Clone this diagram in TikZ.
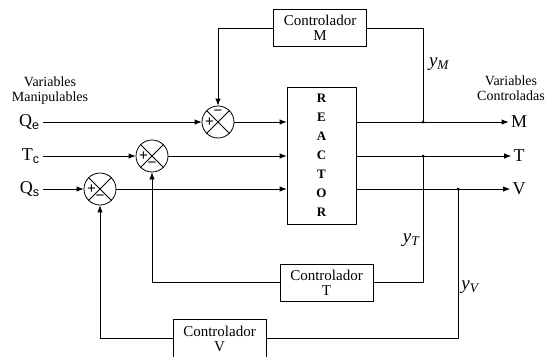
\documentclass[tikz,border=0pt]{standalone}
\usepackage{fontspec}
\setmainfont{Liberation Serif}
\setsansfont{Liberation Sans}
\usetikzlibrary{arrows.meta}
\begin{document}
\begin{tikzpicture}[x=1pt,y=-1pt,
  every path/.style={line width=0.8pt},
  box/.style={draw,minimum width=93pt,minimum height=37pt,inner sep=0pt,align=center,font=\fontsize{15}{15}\selectfont},
  sumj/.style={draw,circle,minimum size=32pt,inner sep=0pt},
  arr/.style={-{Latex[length=7pt,width=5.5pt]}},
  jdot/.style={circle,fill,inner sep=0pt,minimum size=3pt},
  inlbl/.style={font=\fontsize{18}{20}\selectfont,inner sep=3pt,anchor=east},
  outlbl/.style={font=\fontsize{18}{20}\selectfont,inner sep=2pt},
  ylbl/.style={font=\itshape\fontsize{19}{19}\selectfont,inner sep=0pt},
  sgn/.style={font=\sffamily\fontsize{15}{15}\selectfont,inner sep=0pt},
  grp/.style={font=\fontsize{14}{15}\selectfont,align=center,inner sep=0pt}
]
\useasboundingbox (0,0) rectangle (551,356);

% group labels
\node[grp] (vm) at (50,90.5) {Variables\\Manipulables};
\node[grp] (vc) at (511,88.5) {Variables\\Controladas};

% input labels
\node[inlbl] (qe) at (43,122) {Q\textsubscript{\sffamily e}};
\node[inlbl] (tc) at (43,156) {T\textsubscript{\sffamily c}};
\node[inlbl] (qs) at (43,189) {Q\textsubscript{\sffamily s}};

% summing junctions
\node[sumj] (sE) at (218,122) {};
\node[sumj] (sT) at (152,156) {};
\node[sumj] (sS) at (100,189) {};
\foreach \s in {sE,sT,sS}{
  \draw (\s.north east) -- (\s.south west) (\s.north west) -- (\s.south east);
  \node[sgn] at ([xshift=-8.5pt]\s.center) {+};
}
\node[sgn] at ([yshift=9pt]sE.center) {\char"2212};
\node[sgn] at ([yshift=-9pt]sT.center) {\char"2212};
\node[sgn] at ([yshift=-9pt]sS.center) {\char"2212};

% reactor
\node[draw,minimum width=69pt,minimum height=137pt,inner sep=0pt,align=center,
      font=\bfseries\fontsize{13}{19}\selectfont] (reactor) at (321.5,155.5)
      {R\\E\\A\\C\\T\\O\\R};

% controllers
\node[box] (cM) at (320,28) {Controlador\\M};
\node[box] (cT) at (326.5,282.5) {Controlador\\T};
\node[box,minimum height=39pt] (cV) at (219.5,338.5) {Controlador\\V};

% output labels
\node[outlbl] (oM) at (519,122) {M};
\node[outlbl] (oT) at (519,156) {T};
\node[outlbl] (oV) at (519,189) {V};

% junction dots
\node[jdot] (jM) at (423,122) {};
\node[jdot] (jT) at (423,156) {};
\node[jdot] (jV) at (458,189) {};

% inputs
\draw[arr] (qe.east) -- (sE.west);
\draw[arr] (tc.east) -- (sT.west);
\draw[arr] (qs.east) -- (sS.west);
\draw[arr] (sE.east) -- (reactor.west |- sE.east);
\draw[arr] (sT.east) -- (reactor.west |- sT.east);
\draw[arr] (sS.east) -- (reactor.west |- sS.east);

% outputs
\draw[arr] (reactor.east |- oM) -- (oM.west);
\draw[arr] (reactor.east |- oT) -- (oT.west);
\draw[arr] (reactor.east |- oV) -- (oV.west);

% feedback loops
\draw (jM.center) |- (cM.east);
\draw[arr] (cM.west) -| (sE.north);
\draw (jT.center) |- (cT.east);
\draw[arr] (cT.west) -| (sT.south);
\draw (jV.center) |- (cV.east);
\draw[arr] (cV.west) -| (sS.south);

% signal labels
\node[ylbl] (yM) at (439,64) {y\textsubscript{M}};
\node[ylbl] (yT) at (411,240) {y\textsubscript{T}};
\node[ylbl] (yV) at (470,287) {y\textsubscript{V}};
\end{tikzpicture}
\end{document}
